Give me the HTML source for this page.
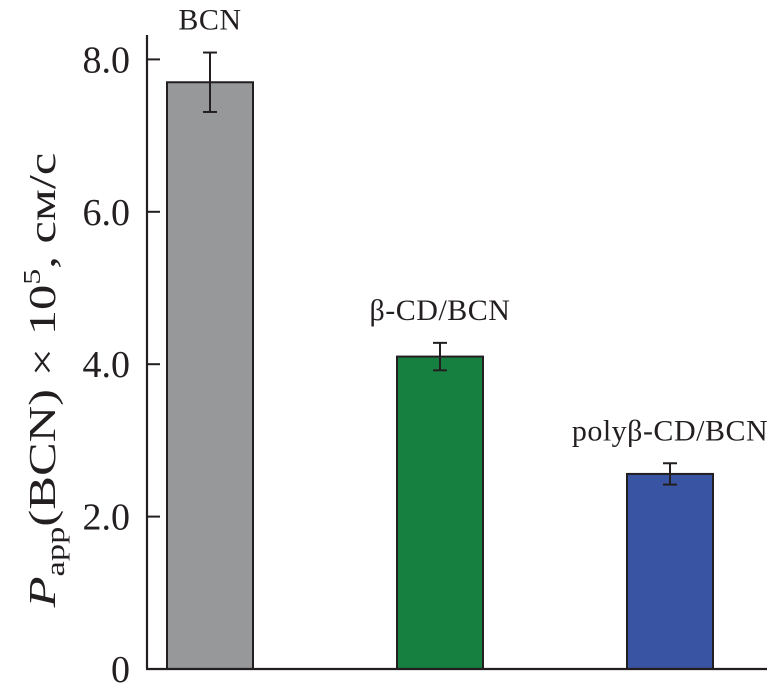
<!DOCTYPE html>
<html><head><meta charset="utf-8"><style>
body{margin:0;background:#fff}
svg text{font-family:"Liberation Serif",serif;fill:#231f20}
</style></head><body>
<svg id="chart" width="767" height="687" viewBox="0 0 767 687" xmlns="http://www.w3.org/2000/svg">
<g id="marks"></g>
<line x1="147" y1="35" x2="147" y2="669" stroke="#231f20" stroke-width="2.2"/>
<line x1="146" y1="669" x2="767" y2="669" stroke="#231f20" stroke-width="2.2"/>
<g id="ticks"></g>
<text transform="translate(55,380) rotate(-90) scale(1.33,1)" text-anchor="middle" font-size="38"><tspan font-style="italic">P</tspan><tspan font-size="26" dy="9">app</tspan><tspan dy="-9">(BCN) × 10</tspan><tspan font-size="24" dy="-15">5</tspan><tspan dy="15">, см/с</tspan></text>
</svg>
<script>
const categories = ["BCN", "β-CD/BCN", "polyβ-CD/BCN"];
const values = [7.7, 4.1, 2.56];
const errors = [0.39, 0.18, 0.14];
const colors = ["#97989a", "#168040", "#3a54a4"];
const tickValues = [0, 2, 4, 6, 8];
const tickLabels = ["0", "2.0", "4.0", "6.0", "8.0"];

const NS = "http://www.w3.org/2000/svg";
const y = v => 669 - v * 76.2;
const xLeft = i => 167 + i * 230;
const barW = 86;
function mk(tag, attrs, parent){const e=document.createElementNS(NS,tag);for(const k in attrs)e.setAttribute(k,attrs[k]);parent.appendChild(e);return e;}
const marks = document.getElementById('marks');
const ticks = document.getElementById('ticks');
tickValues.forEach((v,i)=>{
  const t = mk('line',{x1:147,x2:160,y1:y(v),y2:y(v),stroke:'#231f20','stroke-width':2},ticks);
  
  
  const l = mk('text',{x:130,y:y(v)+13,'text-anchor':'end','font-size':38},ticks);
  l.textContent = tickLabels[i];
  
  
});
categories.forEach((c,i)=>{
  const x0 = xLeft(i), cx = x0 + barW/2;
  const r = mk('rect',{x:x0,y:y(values[i]),width:barW,height:y(0)-y(values[i]),fill:colors[i],stroke:'#231f20','stroke-width':2},marks);
  
  
  const g = mk('g',{stroke:'#231f20','stroke-width':2},marks);
  
  
  const hi=y(values[i]+errors[i]), lo=y(values[i]-errors[i]);
  mk('line',{x1:cx,x2:cx,y1:hi,y2:lo},g);
  mk('line',{x1:cx-7,x2:cx+7,y1:hi,y2:hi},g);
  mk('line',{x1:cx-7,x2:cx+7,y1:lo,y2:lo},g);
  const t = mk('text',{x:cx,y:hi-23,'text-anchor':'middle','font-size':30,'letter-spacing':0.5},marks);
  t.textContent = c;
  
  
});
</script>
</body></html>
